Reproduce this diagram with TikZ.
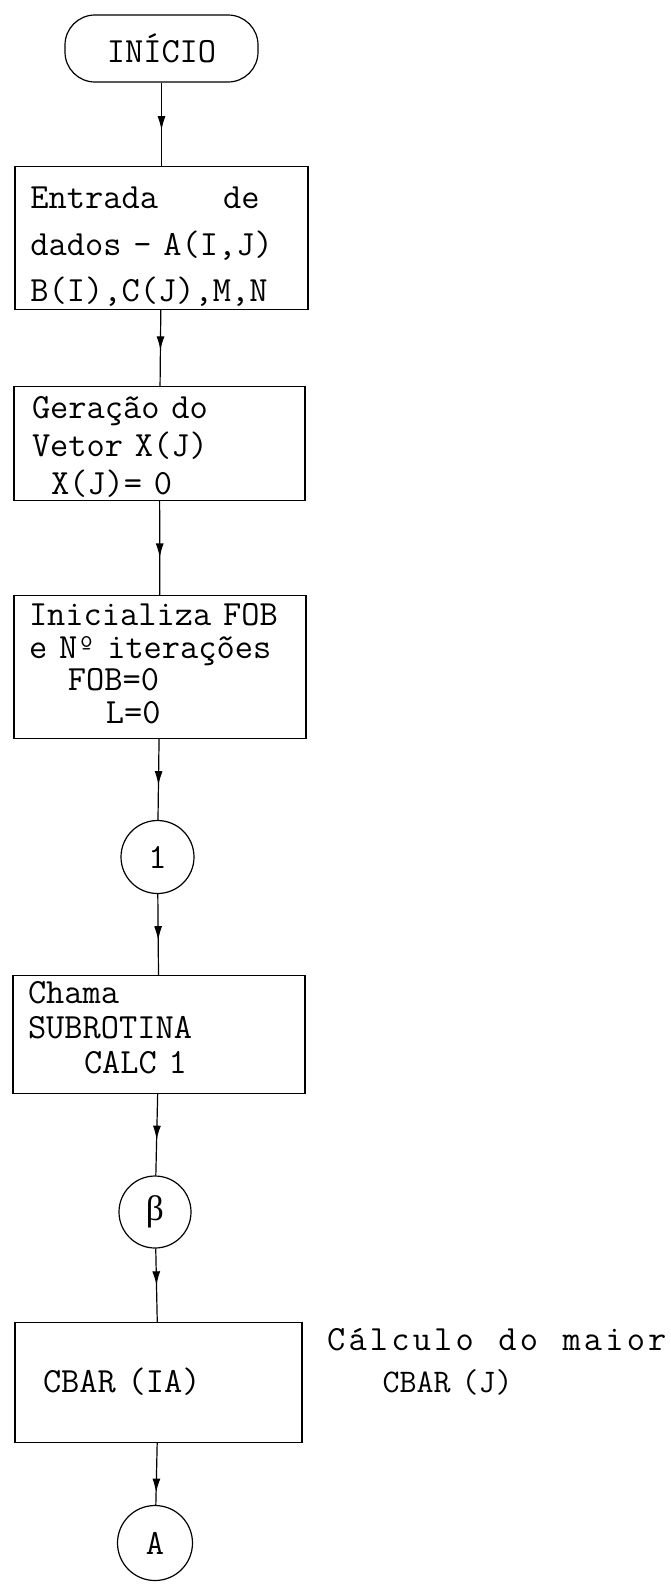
\documentclass[tikz,border=0pt]{standalone}
\usepackage{fontspec}
\newfontfamily\grfont{Liberation Serif}
\usepackage{tikz}
\usetikzlibrary{arrows.meta, decorations.markings}

\begin{document}
\begin{tikzpicture}[x=1pt, y=-1pt, line width=1.2pt,
    font=\ttfamily\fontsize{35.4}{38}\selectfont,
    box/.style={draw, rectangle, anchor=north, inner ysep=0pt, align=left},
    conn/.style={draw, circle, minimum size=#1, inner sep=0pt},
    flow/.style={postaction={decorate}, decoration={markings,
        mark=at position #1 with {\arrow{Latex[length=14pt, width=8pt]}}}},
    flow/.default=0.57]
  \useasboundingbox (0,0) rectangle (670,1585);
  % terminal
  \node[draw, rounded corners=30pt, minimum width=193pt, minimum height=67pt, inner sep=0pt]
    (inicio) at (161.5,48.5) {INÍCIO};
  % process boxes
  \node[box, inner xsep=15.5pt, text width=262pt, text height=42pt, text depth=101pt,
        font=\ttfamily\fontsize{35.4}{46.5}\selectfont]
    (entrada) at (161.5,166) {Entrada\hspace{65pt}de\\dados~-~A(I,J)\\B(I),C(J),M,N};
  \node[box, inner xsep=18pt, text width=255pt, text height=32pt, text depth=82pt]
    (vetor) at (159.5,386) {Geração~do\\Vetor~X(J)\\\hspace*{19pt}X(J)=~0};
  \node[box, inner xsep=15pt, text width=262pt, text height=30pt, text depth=113pt,
        font=\ttfamily\fontsize{35.4}{32.5}\selectfont]
    (inic) at (160,595) {Inicializa~FOB\\e~Nº~iterações\\\hspace*{39pt}FOB=0\\\hspace*{77pt}L=0};
  \node[conn=73pt] (um) at (157.5,857) {1};
  \node[box, inner xsep=15pt, text width=262pt, text height=28pt, text depth=90pt,
        font=\ttfamily\fontsize{35.4}{35}\selectfont]
    (chama) at (159,975) {Chama\\SUBROTINA\\\hspace*{56pt}CALC~1};
  \node[conn=72pt] (beta) at (155,1212) {\grfont β};
  \node[box, inner xsep=28pt, text width=231pt, text height=70pt, text depth=50pt]
    (cbar) at (158.5,1322) {CBAR~(IA)};
  \node[conn=75pt] (conA) at (155,1543) {A};
  % side note, wide letter pitch on the first line
  \node[anchor=north west, inner sep=0pt, align=left, text width=345pt,
        text height=28pt, text depth=52pt, font=\ttfamily\fontsize{33}{42}\selectfont]
    (nota) at (325,1322) {{\fontsize{35.4}{42}\selectfont
      \foreach \c in {C,á,l,c,u,l,o,{},d,o,{},m,a,i,o,r}{\makebox[21.4pt]{\c}}}\\
      \hspace*{57pt}CBAR~(J)};
  % connectors
  \draw[flow] (inicio) -- (entrada);
  \draw[flow=0.53] (entrada) -- (vetor);
  \draw[flow=0.6] (vetor) -- (inic);
  \draw[flow] (inic) -- (um);
  \draw[flow] (um) -- (chama);
  \draw[flow=0.56] (chama) -- (beta);
  \draw[flow=0.5] (beta) -- (cbar);
  \draw[flow=0.8] (cbar) -- (conA);
\end{tikzpicture}
\end{document}
